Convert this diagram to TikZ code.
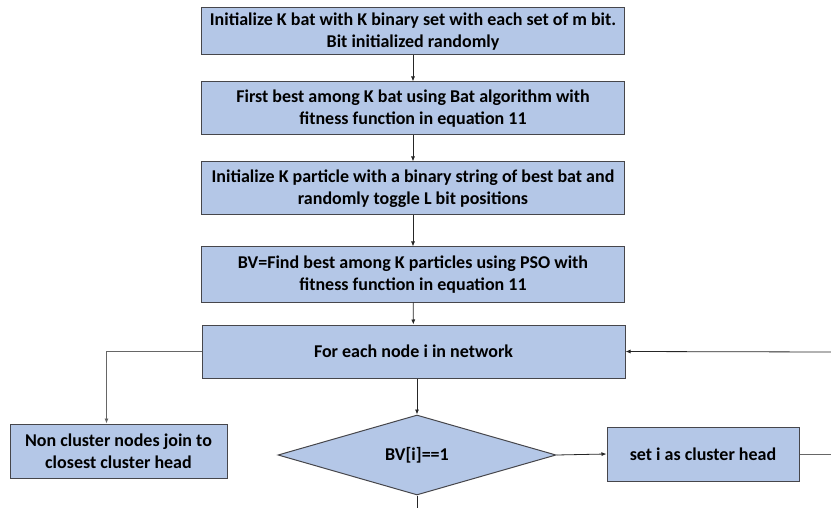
\documentclass[tikz,border=0pt]{standalone}
\usepackage{fontspec}
\setmainfont{Carlito}
\usepackage{tikz}
\usetikzlibrary{shapes.geometric,arrows.meta,positioning}

\definecolor{boxblue}{RGB}{180,199,231}
\definecolor{boxline}{RGB}{70,70,75}

\begin{document}
\begin{tikzpicture}[x=1pt,y=-1pt,
	every node/.style={font=\fontsize{18}{22}\selectfont\bfseries},
	stepbox/.style={draw=boxline,fill=boxblue,line width=1pt,inner sep=2pt,align=center,minimum width=423pt,minimum height=53pt},
	decision/.style={diamond,draw=boxline,fill=boxblue,line width=1pt,inner sep=0pt,minimum width=278pt,minimum height=80pt},
	link/.style={draw=black!85,line width=0.8pt,-{Latex[length=5pt,width=4pt]}}]
    \useasboundingbox (0,0) rectangle (831,508);
    % main column
    \node[stepbox,minimum height=47pt] (init) at (413,31.5) {Initialize K bat with K binary set with each set of m bit.\\Bit initialized randomly};
    \node[stepbox] (bat) at (413,108.5) {First best among K bat using Bat algorithm with\\fitness function in equation 11};
    \node[stepbox] (part) at (413,188.5) {Initialize K particle with a binary string of best bat and\\randomly toggle L bit positions};
    \node[stepbox,minimum height=55pt] (pso) at (413,274.5) {BV=Find best among K particles using PSO with\\fitness function in equation 11};
    \node[stepbox] (loop) at (413.5,351.5) {For each node i in network};
    % bottom row
    \node[stepbox,minimum width=217pt,minimum height=54pt] (join) at (118.5,451) {Non cluster nodes join to\\closest cluster head};
    \node[decision] (test) at (417,455) {BV[i]==1};
    \node[stepbox,minimum width=192pt,minimum height=54pt] (head) at (703,454) {set i as cluster head};
    \coordinate (back) at (831,352);
    \coordinate (out) at (831,454);
    \coordinate (down) at (417,508);

    \draw[link] (init) -- (bat);
    \draw[link] (bat) -- (part);
    \draw[link] (part) -- (pso);
    \draw[link] (pso) -- (loop);
    \draw[link] (loop.south -| test.north) -- (test.north);
    \draw[link] (test.east) -- (head.west);
    \draw[link] (back) -- (loop.east);
    \draw[link,draw=black!60] (loop.west) -| ([xshift=-12pt]join.north);
    \draw[draw=black!60,line width=0.8pt] (head.east) -- (out);
    \draw[draw=black!85,line width=0.8pt] (test.south) -- (down);
\end{tikzpicture}
\end{document}
